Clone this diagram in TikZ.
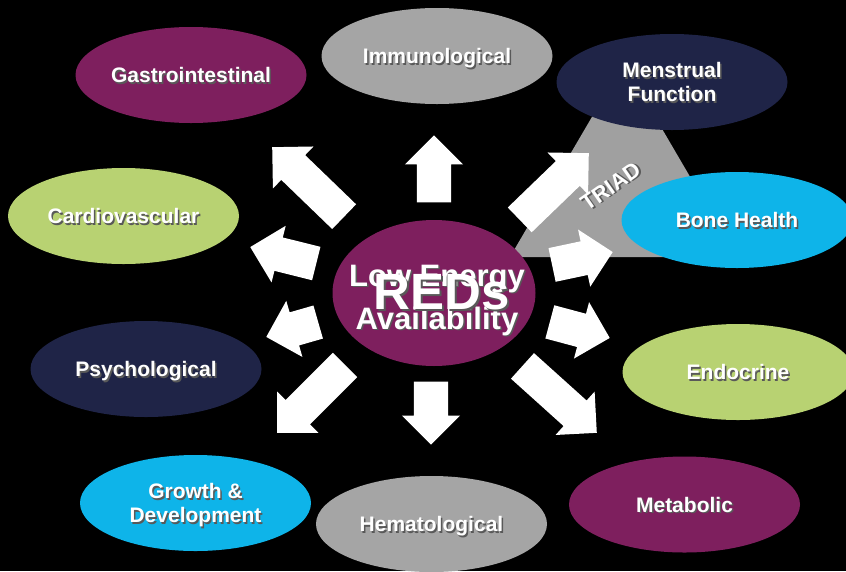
\documentclass[tikz,border=0pt]{standalone}
\usepackage{fontspec}
\setmainfont{Liberation Sans}
\usetikzlibrary{shapes.geometric,shapes.arrows}
\definecolor{plum}{RGB}{126,31,94}
\definecolor{navy}{RGB}{31,36,71}
\definecolor{stone}{RGB}{165,165,165}
\definecolor{sky}{RGB}{14,180,233}
\definecolor{lime}{RGB}{184,210,114}
\newcommand\shd[1]{\rlap{\kern1.5pt\raisebox{-1.5pt}{\textcolor{black!65}{#1}}}#1}

\begin{document}
\begin{tikzpicture}[x=1pt,y=-1pt]
\tikzstyle{organ} = [ellipse, minimum width=231pt, minimum height=96pt, inner sep=0pt, text depth=0pt, text=white, align=center, font=\bfseries\fontsize{21}{24}\selectfont]
\tikzstyle{blk} = [single arrow, fill=white, inner xsep=0pt, inner ysep=17pt, minimum width=58pt, single arrow head extend=12pt, anchor=tip]

\useasboundingbox (0,0) rectangle (846,571);
\clip (0,0) rectangle (846,571);
\fill[black] (0,0) rectangle (846,571);
\fill[stone!97!black] (623.5,63) -- (737,257) -- (510,257) -- cycle;
\node [text=white, rotate=35, font=\bfseries\fontsize{22}{24}\selectfont] (tr) at (611,187) {\shd{TRIAD}};

\node [organ, fill=plum] (gi) at (191,75) {\shd{Gastrointestinal}};
\node [organ, fill=stone] (im) at (437,56) {\shd{Immunological}};
\node [organ, fill=navy] (mf) at (672,82) {\shd{Menstrual}\\\shd{Function}};
\node [organ, fill=lime] (cv) at (123.5,216) {\shd{Cardiovascular}};
\node [organ, fill=sky] (bh) at (737,220) {\shd{Bone Health}};
\node [organ, fill=navy] (ps) at (146,369) {\shd{Psychological}};
\node [organ, fill=lime] (en) at (738,372) {\shd{Endocrine}};
\node [organ, fill=sky] (gd) at (195.5,503) {\shd{Growth \&}\\\shd{Development}};
\node [organ, fill=stone] (he) at (431.5,524) {\shd{Hematological}};
\node [organ, fill=plum] (me) at (684.5,504.5) {\shd{Metabolic}};

\node [organ, fill=plum, minimum width=203pt, minimum height=146pt] (core) at (434,293) {};
\node [text=white, align=center, font=\bfseries\fontsize{31}{43}\selectfont] (lea) at (437,301) {\shd{Low Energy}\\\shd{Availability}};
\node [text=white, font=\bfseries\fontsize{51}{56}\selectfont] (reds) at (442,293) {\shd{REDs}};

\node [blk, minimum height=67pt, rotate=90] (au) at (434,135) {};
\node [blk, minimum height=100pt, rotate=136] (aul) at (272,147) {};
\node [blk, minimum height=68pt, rotate=166] (al) at (250,247) {};
\node [blk, minimum height=54pt, rotate=196] (adl) at (266,337) {};
\node [blk, minimum height=96pt, rotate=225] (abl) at (277,433) {};
\node [blk, minimum height=63pt, rotate=270] (ad) at (431,445) {};
\node [blk, minimum height=100pt, rotate=-42] (abr) at (597,433) {};
\node [blk, minimum height=62pt, rotate=-15] (adr) at (610,338) {};
\node [blk, minimum height=62pt, rotate=12] (ar) at (613,252) {};
\node [blk, minimum height=96pt, rotate=44] (aur) at (589,153) {};
\end{tikzpicture}
\end{document}
